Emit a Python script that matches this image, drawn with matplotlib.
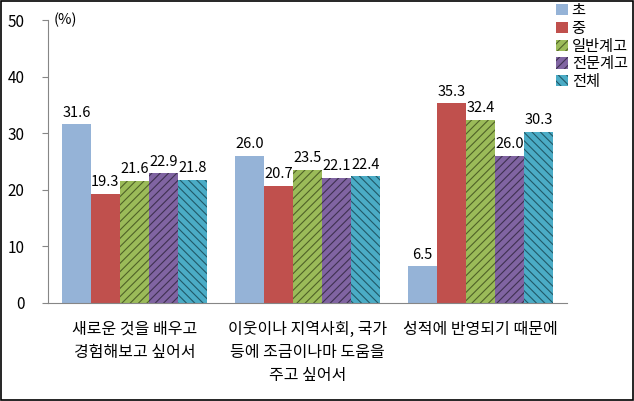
import matplotlib.pyplot as plt
import numpy as np

plt.rcParams['font.family'] = ['Noto Sans CJK KR', 'DejaVu Sans']
plt.rcParams['hatch.linewidth'] = 0.8

categories = ['새로운 것을 배우고\n경험해보고 싶어서',
              '이웃이나 지역사회, 국가\n등에 조금이나마 도움을\n주고 싶어서',
              '성적에 반영되기 때문에']
series = ['초', '중', '일반계고', '전문계고', '전체']
values = [
    [31.6, 26.0, 6.5],
    [19.3, 20.7, 35.3],
    [21.6, 23.5, 32.4],
    [22.9, 22.1, 26.0],
    [21.8, 22.4, 30.3],
]
colors = ['#95B3D7', '#C0504D', '#9BBB59', '#8064A2', '#4BACC6']
hatches = [None, None, '////', '////', '\\\\\\\\']
hatch_colors = [None, None, '#4F6228', '#3F3151', '#215968']

fig = plt.figure(figsize=(6.34, 4.01), dpi=100)
ax = fig.add_axes([0.0757, 0.2444, 0.8186, 0.7056])

x = np.arange(len(categories))
w = 0.168
for i, (name, vals) in enumerate(zip(series, values)):
    pos = x + (i - 2) * w
    bars = ax.bar(pos, vals, w, color=colors[i], label=name, linewidth=0)
    if hatches[i]:
        for b in bars:
            b.set_hatch(hatches[i])
            b.set_edgecolor(hatch_colors[i])
            b.set_linewidth(0)
    for p, v in zip(pos, vals):
        ax.text(p, v + 0.8, f'{v:.1f}', ha='center', va='bottom', fontsize=10.5)

ax.set_xlim(-0.5, 2.5)
ax.set_ylim(0, 50)
ax.set_yticks(range(0, 51, 10))
ax.tick_params(axis='y', labelsize=11, length=4, color='#868686', pad=13)
ax.set_xticks(x)
ax.set_xticklabels(categories, fontsize=11.5, linespacing=1.45)
ax.tick_params(axis='x', length=0, pad=13)
for s in ['top', 'right']:
    ax.spines[s].set_visible(False)
for s in ['left', 'bottom']:
    ax.spines[s].set_color('#868686')
ax.text(0.01, 1.0, '(%)', transform=ax.transAxes, fontsize=10.5, ha='left', va='center')

leg = fig.legend(loc='upper left', bbox_to_anchor=(0.868, 1.01), frameon=False,
                 fontsize=11, handlelength=0.75, handleheight=0.75, handletextpad=0.25,
                 labelspacing=0.05, borderaxespad=0)

fig.patches.append(plt.Rectangle((0.002, 0.003), 0.996, 0.994, transform=fig.transFigure,
                                 fill=False, edgecolor='black', linewidth=1.2))

fig.savefig('out.png', dpi=100)
